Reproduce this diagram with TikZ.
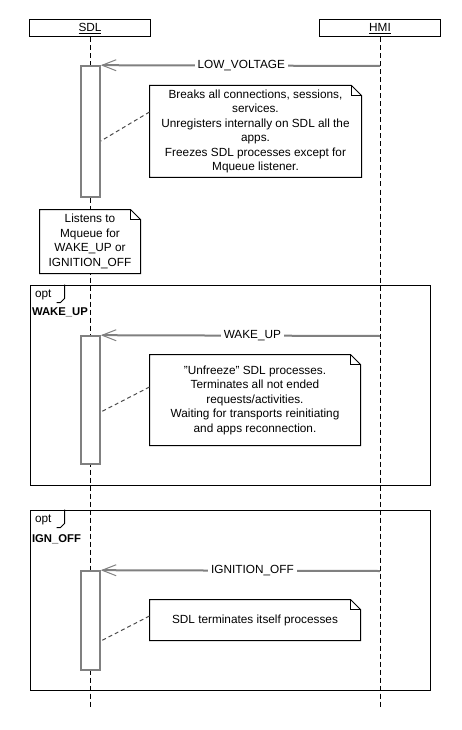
\documentclass[tikz,border=0pt]{standalone}
\usepackage{fontspec}
\setmainfont{Liberation Sans}
\usetikzlibrary{arrows.meta}

\definecolor{msggray}{RGB}{128,128,128}

\tikzset{
    head/.style={draw, minimum width=121pt, minimum height=17pt, inner sep=0pt},
    lifeline/.style={dash pattern=on 5pt off 3pt},
    act/.style={draw=msggray, line width=1.6pt, fill=white, minimum width=19pt, inner sep=0pt},
    msg/.style={draw=msggray, line width=2pt, -{Straight Barb[length=14pt,width=11pt,line width=1pt]}},
    msglabel/.style={fill=white, inner sep=3pt},
    notetext/.style={fill=white, align=center, inner sep=0pt},
    noteconn/.style={draw=black!70, dash pattern=on 4pt off 3pt},
    frame/.style={draw, inner sep=0pt},
    guard/.style={font=\fontsize{11.3}{14.5}\selectfont\bfseries, inner sep=0pt, anchor=west}
}

% folded-corner outline around a note node
\newcommand{\noteframe}[1]{%
    \draw (#1.north west) -- ([xshift=-10pt]#1.north east) -- ([yshift=-10pt]#1.north east)
        -- (#1.south east) -- (#1.south west) -- cycle;
    \draw ([xshift=-10pt]#1.north east) |- ([yshift=-10pt]#1.north east);
}

\begin{document}
\begin{tikzpicture}[x=1pt, y=-1pt, line width=1pt, font=\fontsize{11.8}{14.5}\selectfont]
    \useasboundingbox (0,0) rectangle (462,730);

    \node[head] (sdl) at (90,28.5) {\underline{SDL}};
    \node[head] (hmi) at (380,28.5) {\underline{HMI}};

    \coordinate (sdlend) at (90,708);
    \coordinate (hmiend) at (380,708);
    \draw[lifeline] (sdl.south) -- (sdlend);
    \draw[lifeline] (hmi.south) -- (hmiend);

    % first block
    \node[act, minimum height=131pt] (act1) at (90.5,131.5) {};
    \coordinate (lv) at (380,66);
    \draw[msg] (lv) -- node[msglabel, pos=0.497]{LOW\_VOLTAGE} (act1.north east);

    \node[notetext, minimum width=211pt, minimum height=91pt] (note1) at (255.5,131.5)
        {Breaks all connections, sessions,\\services.\\Unregisters internally on SDL all the\\apps.\\Freezes SDL processes except for\\Mqueue listener.};
    \noteframe{note1}
    \draw[noteconn] ([yshift=19.5pt]note1.west) -- ([yshift=-9.5pt]act1.east);

    \node[notetext, minimum width=100pt, minimum height=63pt] (note2) at (90,241.5)
        {Listens to\\Mqueue for\\WAKE\_UP or\\IGNITION\_OFF};
    \noteframe{note2}

    % opt WAKE_UP
    \node[frame, minimum width=400pt, minimum height=200pt] (opt1) at (230,385) {};
    \draw ([xshift=35pt]opt1.north west) -- ++(0,14) -- ++(-4,4) -- ++(-4,0);
    \node[inner sep=0pt, anchor=west] (opt1lbl) at ([xshift=5pt,yshift=-10pt]opt1.north west) {opt};
    \node[guard] (opt1grd) at ([xshift=2pt,yshift=-28pt]opt1.north west) {WAKE\_UP};

    \node[act, minimum height=128pt] (act2) at (90.5,400) {};
    \coordinate (wu) at (380,336);
    \draw[msg] (wu) -- node[msglabel, pos=0.457]{WAKE\_UP} (act2.north east);

    \node[notetext, minimum width=210pt, minimum height=90pt] (note3) at (255,400)
        {"Unfreeze" SDL processes.\\Terminates all not ended\\requests/activities.\\Waiting for transports reinitiating\\and apps reconnection.};
    \noteframe{note3}
    \draw[noteconn] ([yshift=13pt]note3.west) -- ([yshift=-12pt]act2.east);

    % opt IGN_OFF
    \node[frame, minimum width=400pt, minimum height=180pt] (opt2) at (230,600) {};
    \draw ([xshift=35pt]opt2.north west) -- ++(0,14) -- ++(-4,4) -- ++(-4,0);
    \node[inner sep=0pt, anchor=west] (opt2lbl) at ([xshift=5pt,yshift=-10pt]opt2.north west) {opt};
    \node[guard] (opt2grd) at ([xshift=2pt,yshift=-30pt]opt2.north west) {IGN\_OFF};

    \node[act, minimum height=99pt] (act3) at (90.5,620.5) {};
    \coordinate (io) at (380,571);
    \draw[msg] (io) -- node[msglabel, pos=0.457]{IGNITION\_OFF} (act3.north east);

    \node[notetext, minimum width=210pt, minimum height=40pt] (note4) at (255,620)
        {SDL terminates itself processes};
    \noteframe{note4}
    \draw[noteconn] ([yshift=4pt]note4.west) -- ([yshift=-20.5pt]act3.east);
\end{tikzpicture}
\end{document}
